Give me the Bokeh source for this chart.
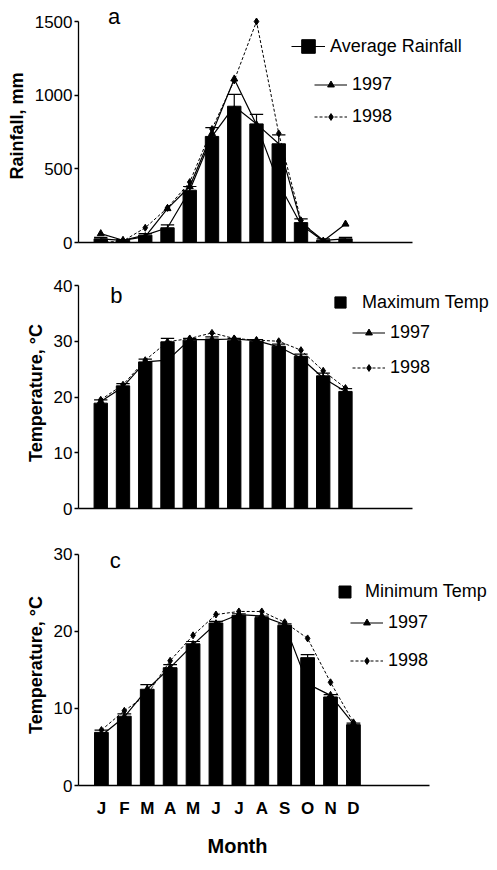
import numpy as np
from bokeh.plotting import figure
from bokeh.models import Legend, LegendItem, FixedTicker, Label, Range1d, Title
from bokeh.layouts import column
from bokeh.embed import file_html
from bokeh.resources import INLINE

# ---------------- data ----------------
month_num = [1, 2, 3, 4, 5, 6, 7, 8, 9, 10, 11, 12]
month_labels = ["J", "F", "M", "A", "M", "J", "J", "A", "S", "O", "N", "D"]

rain_avg = [25, 15, 50, 100, 355, 720, 925, 805, 670, 135, 15, 25]
rain_err = [10, 5, 10, 20, 25, 60, 80, 65, 60, 25, 10, 10]
rain_1997 = [60, 15, 40, 230, 380, 740, 1110, 800, 400, 120, 10, 125]
rain_1998 = [0, 10, 100, 235, 410, 770, 1100, 1500, 740, 150, 0, 0]

tmax_avg = [18.9, 22.0, 26.3, 29.9, 30.2, 30.4, 30.1, 30.0, 29.1, 27.3, 23.8, 21.0]
tmax_err = [0.6, 0.4, 0.5, 0.6, 0.3, 0.4, 0.4, 0.3, 0.4, 0.4, 0.5, 0.5]
tmax_1997 = [19.2, 21.8, 26.3, 26.6, 30.3, 30.3, 30.4, 30.1, 29.0, 27.0, 23.4, 21.0]
tmax_1998 = [19.5, 22.2, 26.6, 29.9, 30.5, 31.5, 30.5, 30.2, 30.0, 28.4, 24.7, 21.6]

tmin_avg = [6.9, 9.0, 12.5, 15.3, 18.4, 21.1, 22.1, 21.8, 20.8, 16.6, 11.5, 7.9]
tmin_err = [0.3, 0.3, 0.6, 0.4, 0.3, 0.2, 0.2, 0.2, 0.2, 0.4, 0.3, 0.2]
tmin_1997 = [6.5, 8.9, 12.5, 15.3, 18.3, 21.0, 22.2, 22.0, 20.9, 13.2, 11.7, 8.0]
tmin_1998 = [7.2, 9.7, 11.8, 16.2, 19.5, 22.2, 22.6, 22.6, 21.2, 19.1, 13.4, 8.2]

rain_ticks = [0, 500, 1000, 1500]
tmax_ticks = [0, 10, 20, 30, 40]
tmin_ticks = [0, 10, 20, 30]

FONT = "Liberation Sans"
W = 496


def make_fig(height, b_left, b_top, b_bottom, px_per_month, y_end, y_ticks, ylabel, x_axis_end):
    p = figure(width=W, height=height, x_range=Range1d(0, (W - b_left) / px_per_month),
               y_range=Range1d(0, y_end),
               output_backend="svg", toolbar_location=None,
               min_border_left=b_left, min_border_right=0,
               min_border_top=b_top, min_border_bottom=b_bottom)
    p.grid.visible = False
    p.outline_line_color = None
    p.background_fill_color = "white"
    p.border_fill_color = "white"
    ya = p.yaxis[0]
    ya.ticker = FixedTicker(ticks=y_ticks)
    ya.bounds = (0, y_ticks[-1])
    ya.major_tick_out = 4
    ya.major_tick_in = 0
    ya.minor_tick_out = 0
    ya.minor_tick_in = 0
    ya.axis_line_width = 1.3
    ya.major_tick_line_width = 1.3
    ya.major_label_standoff = 2
    ya.major_label_text_font = FONT
    ya.major_label_text_font_size = "17px"
    ya.major_label_text_color = "black"
    ya.axis_label = ylabel
    ya.axis_label_text_font = FONT
    ya.axis_label_text_font_style = "bold"
    ya.axis_label_text_font_size = "18px"
    ya.axis_label_text_color = "black"
    ya.axis_label_standoff = 5
    xa = p.xaxis[0]
    xa.bounds = (0, x_axis_end)
    xa.ticker = FixedTicker(ticks=[])
    xa.major_tick_out = 0
    xa.major_tick_in = 0
    xa.minor_tick_out = 0
    xa.minor_tick_in = 0
    xa.axis_line_width = 1.3
    return p


def draw_series(p, avg, err, v97, v98, with_avg_line=False):
    x = np.array(month_num, dtype=float)
    avg_a = np.array(avg, dtype=float)
    upper = avg_a + np.array(err, dtype=float)
    bars = p.vbar(x=x, top=avg_a, width=0.6, fill_color="black", line_color="black")
    p.segment(x0=x, y0=avg_a, x1=x, y1=upper, line_color="black", line_width=1.2)
    p.segment(x0=x - 0.3, y0=upper, x1=x + 0.3, y1=upper, line_color="black", line_width=1.2)
    extra = []
    if with_avg_line:
        la = p.line(x, avg_a, line_color="black", line_width=1.2)
        # square markers of the average series sit inside the bars (size 0 on the plot);
        # the legend draws them at its own size
        sq = p.scatter(x, avg_a, marker="square", size=0, fill_color="black", line_color="black")
        extra = [la, sq]
    l97 = p.line(x, v97, line_color="black", line_width=1.2)
    s97 = p.scatter(x, v97, marker="triangle", size=7, fill_color="black", line_color="black")
    l98 = p.line(x, v98, line_color="black", line_width=1.0, line_dash="3 2")
    s98 = p.scatter(x, v98, marker="diamond", size=7, fill_color="black", line_color="black")
    return bars, extra, [l97, s97], [l98, s98]


def add_leg(p, label, renderers, loc, gw, gh, standoff):
    leg = Legend(items=[LegendItem(label=label, renderers=renderers)], location=loc,
                 glyph_width=gw, glyph_height=gh, label_standoff=standoff,
                 label_text_font=FONT, label_text_font_size="18px", label_text_color="black",
                 label_height=22, padding=0, margin=0, spacing=0,
                 border_line_color=None, background_fill_alpha=0)
    p.add_layout(leg)


# ---------------- panel a ----------------
pa = make_fig(275, 78, 9, 33, 22.25, 233 / 0.14733, rain_ticks, "Rainfall, mm", 15)
bars, extra, r97, r98 = draw_series(pa, rain_avg, rain_err, rain_1997, rain_1998, with_avg_line=True)
add_leg(pa, "Average Rainfall", extra, (213, 179), 34, 34, 5)
add_leg(pa, "1997", r97, (236, 147), 33, 17, 5)
add_leg(pa, "1998", r98, (236, 115), 33, 17, 5)
pa.add_layout(Label(x=1.6, y=1534, text="a", text_font=FONT, text_font_size="22px",
                    text_align="center", text_baseline="middle", text_color="black"))

# ---------------- panel b ----------------
pb = make_fig(267, 77, 2, 34, 22.3, 231 / 5.575, tmax_ticks, "Temperature, °C", 15)
bars, extra, r97, r98 = draw_series(pb, tmax_avg, tmax_err, tmax_1997, tmax_1998)
add_leg(pb, "Maximum Temp", [bars], (255, 195), 14, 14, 15)
add_leg(pb, "1997", r97, (274, 165), 33, 17, 5)
add_leg(pb, "1998", r98, (274, 130), 33, 17, 5)
pb.add_layout(Label(x=1.7, y=38.2, text="b", text_font=FONT, text_font_size="22px",
                    text_align="center", text_baseline="middle", text_color="black"))

# ---------------- panel c ----------------
pc = make_fig(326, 72, 2, 82, 23.24, 242 / 7.733, tmin_ticks, "Temperature, °C", 15.3)
bars, extra, r97, r98 = draw_series(pc, tmin_avg, tmin_err, tmin_1997, tmin_1998)
add_leg(pc, "Minimum Temp", [bars], (259, 183), 15, 15, 13)
add_leg(pc, "1997", r97, (272, 152), 33, 17, 5)
add_leg(pc, "1998", r98, (272, 114), 33, 17, 5)
pc.add_layout(Label(x=1.6, y=29.2, text="c", text_font=FONT, text_font_size="22px",
                    text_align="center", text_baseline="middle", text_color="black"))
xc = pc.xaxis[0]
xc.ticker = FixedTicker(ticks=month_num)
xc.major_label_overrides = {m: lab for m, lab in zip(month_num, month_labels)}
xc.major_label_text_font = FONT
xc.major_label_text_font_style = "bold"
xc.major_label_text_font_size = "17px"
xc.major_label_text_color = "black"
xc.major_label_standoff = 13
# x-axis title, placed below the axis and centred under the drawn axis line
pc.add_layout(Title(text="Month", align="left", offset=129, standoff=24,
                    text_font=FONT, text_font_size="20px", text_font_style="bold",
                    text_color="black"), "below")

layout = column(pa, pb, pc)
open("out.html", "w").write(file_html(layout, INLINE))
